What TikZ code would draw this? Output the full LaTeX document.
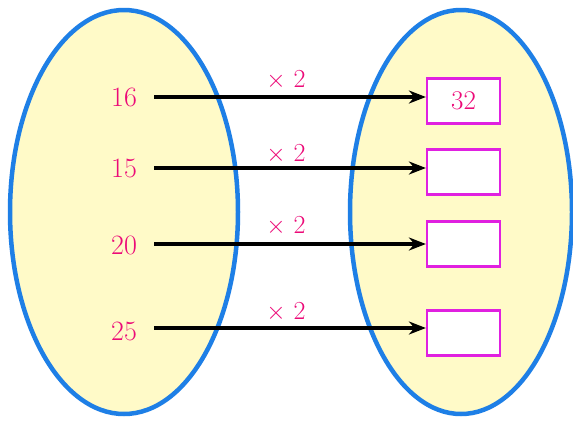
\documentclass[tikz,border=0pt]{standalone}
\usepackage{fontspec}
\usetikzlibrary{arrows.meta}
\definecolor{fillyel}{HTML}{FFFAC8}
\definecolor{ringblue}{HTML}{1E7FE6}
\definecolor{txtpink}{HTML}{EC0A78}
\definecolor{boxmag}{HTML}{E020E0}
\begin{document}
\begin{tikzpicture}[x=1pt,y=-1pt,
  setring/.style={draw=ringblue, line width=4.5pt, fill=fillyel},
  numlbl/.style={text=txtpink, font=\fontsize{28}{28}\selectfont, inner sep=0pt},
  oplbl/.style={text=txtpink, font=\fontsize{26}{26}\selectfont, inner sep=0pt},
  ansbox/.style={draw=boxmag, line width=2.2pt, fill=white, minimum width=73pt, minimum height=45pt, inner sep=0pt, text=txtpink, font=\fontsize{27}{27}\selectfont},
  maparrow/.style={line width=3.2pt, -{Stealth[length=17pt,width=13pt]}}
]
\useasboundingbox (0,0) rectangle (573,424);
\fill[white] (0,0) rectangle (573,424);
\draw[setring] (124,212) ellipse [x radius=114, y radius=202];
\draw[setring] (461,212) ellipse [x radius=111, y radius=202];

\node[numlbl] (a1) at (124,97) {16};
\node[numlbl] (a2) at (124,168) {15};
\node[numlbl] (a3) at (124,245) {20};
\node[numlbl] (a4) at (124,331) {25};

\node[ansbox] (b1) at (463.5,101) {32};
\node[ansbox] (b2) at (463.5,172) {};
\node[ansbox] (b3) at (463.5,244) {};
\node[ansbox] (b4) at (463.5,333) {};

\coordinate (s1) at (154,97);
\coordinate (s2) at (154,168);
\coordinate (s3) at (154,244);
\coordinate (s4) at (154,328);

\draw[maparrow] (s1) -- (s1 -| b1.west);
\draw[maparrow] (s2) -- (s2 -| b2.west);
\draw[maparrow] (s3) -- (s3 -| b3.west);
\draw[maparrow] (s4) -- (s4 -| b4.west);

\node[oplbl] (m1) at (286,80) {$\times$ 2};
\node[oplbl] (m2) at (286,154) {$\times$ 2};
\node[oplbl] (m3) at (286,226) {$\times$ 2};
\node[oplbl] (m4) at (286,312) {$\times$ 2};
\end{tikzpicture}
\end{document}
